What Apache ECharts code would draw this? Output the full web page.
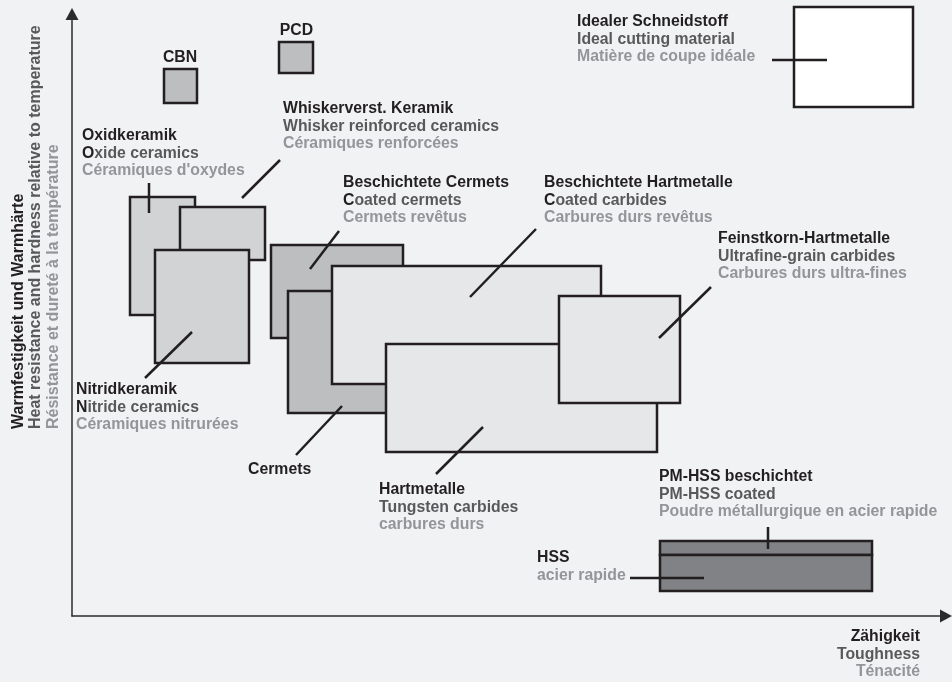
<!DOCTYPE html>
<html><head><meta charset="utf-8">
<script src="https://cdn.jsdelivr.net/npm/echarts@6/dist/echarts.min.js"></script>
<style>html,body{margin:0;padding:0;background:#f1f2f4}#c{width:952px;height:682px}</style>
</head><body><div id="c"></div><script>
// ---- data (toughness on x, heat resistance on y, arbitrary units) ----
const materials = ['CBN','PCD','Oxidkeramik','Whiskerverst. Keramik','Nitridkeramik','Beschichtete Cermets','Cermets','Beschichtete Hartmetalle','Hartmetalle','Feinstkorn-Hartmetalle','Idealer Schneidstoff','PM-HSS beschichtet','HSS'];
const toughMin = [9.2, 20.7, 5.8, 10.8, 8.3, 19.9, 21.6, 26.0, 31.4, 48.7, 72.2, 58.8, 58.8];
const toughMax = [12.5, 24.1, 12.3, 19.3, 17.7, 33.1, 32.8, 52.9, 58.5, 60.8, 84.1, 80.0, 80.0];
const heatMin  = [51.3, 54.3, 30.1, 35.6, 25.3, 27.8, 20.3, 23.2, 16.4, 21.3, 50.9, 6.1, 2.5];
const heatMax  = [54.7, 57.4, 41.9, 40.9, 36.6, 37.1, 32.5, 35.0, 27.2, 32.0, 60.9, 7.5, 6.1];
// leader lines (from label to box), same units
const leadX1 = [7.7, 20.8, 12.0, 26.7, 46.4, 27.0, 41.1, 63.9, 70.0, 69.6, 55.8];
const leadY1 = [43.3, 45.6, 28.4, 38.5, 38.7, 21.0, 18.9, 32.9, 55.6, 8.9, 3.8];
const leadX2 = [7.7, 17.0, 7.3, 23.8, 39.8, 22.4, 36.4, 58.7, 75.5, 69.6, 63.2];
const leadY2 = [40.3, 41.8, 23.8, 34.7, 31.9, 16.1, 14.2, 27.8, 55.6, 6.7, 3.8];
// label texts
const labelDe = ['CBN','PCD','Oxidkeramik','Whiskerverst. Keramik','Nitridkeramik','Beschichtete Cermets','Cermets','Beschichtete Hartmetalle','Hartmetalle','Feinstkorn-Hartmetalle','Idealer Schneidstoff','PM-HSS beschichtet','HSS'];
const labelEn = ['','','Oxide ceramics','Whisker reinforced ceramics','Nitride ceramics','Coated cermets','','Coated carbides','Tungsten carbides','Ultrafine-grain carbides','Ideal cutting material','PM-HSS coated',''];
const labelFr = ['','',"Céramiques d'oxydes",'Céramiques renforcées','Céramiques nitrurées','Cermets revêtus','','Carbures durs revêtus','carbures durs','Carbures durs ultra-fines','Matière de coupe idéale','Poudre métallurgique en acier rapide','acier rapide'];
const xTitle = ['Zähigkeit','Toughness','Ténacité'];
const yTitle = ['Warmfestigkeit und Warmhärte','Heat resistance and hardness relative to temperature','Résistance et dureté à la température'];

// ---- styles / layout ----
const fills = ['#bcbec0','#bcbec0','#d1d3d4','#d1d3d4','#d1d3d4','#bcbec0','#bcbec0','#e6e7e8','#e6e7e8','#e6e7e8','#ffffff','#808285','#808285'];
const initialDark = [0,0,1,0,1,1,0,1,0,0,0,0,0];
const labelPos = [[180,57.5,'center'],[296.5,30.5,'center'],[82,136,'left'],[283,109,'left'],[76,390,'left'],[343,183,'left'],[248,470,'left'],[544,183,'left'],[379,490,'left'],[718,239,'left'],[577,22,'left'],[659,477,'left'],[537,558,'left']];
const LH = 17.5;
const C1 = '#231f20', C2 = '#58595b', C3 = '#939598';
const FONT = 'bold 15.8px "Liberation Sans", Arial, sans-serif';
const FONT_Y = 'bold 16px "Liberation Sans", Arial, sans-serif';

const graphics = [];
function addText(x, y, text, fill, align, rich, rotation, font) {
  const el = {type:'text', x:x, y:y, z:100, silent:true,
    style:{text:text, font:font || FONT, fill:fill, align:align || 'left', verticalAlign:'middle'}};
  if (rich) el.style.rich = rich;
  if (rotation) el.rotation = rotation;
  graphics.push(el);
}
const richInit = {k:{fill:C1, font:FONT}, g:{fill:C2, font:FONT}};
labelDe.forEach((de, i) => {
  const [x, y, al] = labelPos[i];
  const lines = [];
  if (de) lines.push([de, C1, false]);
  if (labelEn[i]) lines.push([labelEn[i], C2, !!initialDark[i]]);
  if (labelFr[i]) lines.push([labelFr[i], C3, false]);
  lines.forEach((ln, j) => {
    if (ln[2]) addText(x, y + j*LH, '{k|' + ln[0][0] + '}{g|' + ln[0].slice(1) + '}', C2, al, richInit);
    else addText(x, y + j*LH, ln[0], ln[1], al);
  });
});
[C1, C2, C3].forEach((c, j) => addText(920, 637 + j*LH, xTitle[j], c, 'right'));
[C1, C2, C3].forEach((c, j) => addText(18.5 + j*LH, 429, yTitle[j], c, 'left', null, Math.PI/2, FONT_Y));

const rectData = materials.map((m, i) => [toughMin[i], toughMax[i], heatMin[i], heatMax[i]]);
const leadData = leadX1.map((v, i) => [v, leadY1[i], leadX2[i], leadY2[i]]);

const chart = echarts.init(document.getElementById('c'), null, {renderer:'canvas'});
const axisCommon = {type:'value', axisTick:{show:false}, axisLabel:{show:false}, splitLine:{show:false},
  axisLine:{show:true, symbol:['none','triangle'], symbolSize:[13,12], lineStyle:{color:'#2b2b2b', width:1.5}}};
chart.setOption({
  backgroundColor:'#f1f2f4',
  animation:false,
  grid:{left:72, right:6, top:14, bottom:66},
  xAxis: Object.assign({min:0, max:87.4}, axisCommon),
  yAxis: Object.assign({min:0, max:60.2}, axisCommon),
  graphic: graphics,
  series:[
    {type:'custom', clip:false, data:rectData, encode:{x:[0,1], y:[2,3]}, z:2,
     renderItem:function(params, api){
       const p0 = api.coord([api.value(0), api.value(3)]);
       const p1 = api.coord([api.value(1), api.value(2)]);
       return {type:'rect', shape:{x:p0[0], y:p0[1], width:p1[0]-p0[0], height:p1[1]-p0[1]},
         style:{fill:fills[params.dataIndex], stroke:'#231f20', lineWidth:2.5}};
     }},
    {type:'custom', clip:false, data:leadData, encode:{x:[0,2], y:[1,3]}, z:3,
     renderItem:function(params, api){
       const a = api.coord([api.value(0), api.value(1)]);
       const b = api.coord([api.value(2), api.value(3)]);
       return {type:'line', shape:{x1:a[0], y1:a[1], x2:b[0], y2:b[1]},
         style:{stroke:'#231f20', lineWidth:2.5}};
     }}
  ]
});
</script></body></html>
